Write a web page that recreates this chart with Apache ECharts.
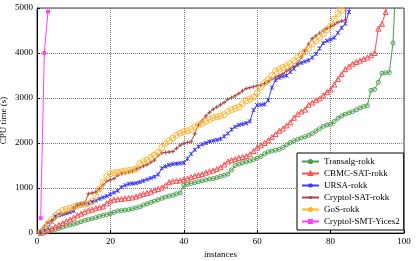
<!DOCTYPE html>
<html><head><meta charset="utf-8">
<script src="https://cdn.jsdelivr.net/npm/echarts@6/dist/echarts.min.js"></script>
<style>html,body{margin:0;padding:0;background:#fff}#c{width:416px;height:261px}</style>
</head><body><div id="c"></div>
<script>
const seriesNames = ["Transalg-rokk","CBMC-SAT-rokk","URSA-rokk","Cryptol-SAT-rokk","GoS-rokk","Cryptol-SMT-Yices2"];
const xTicks = [0,20,40,60,80,100];
const yTicks = [0,1000,2000,3000,4000,5000];
const transalg = [0,20,40,60,80,100,130,160,180,200,220,250,280,300,320,340,370,390,410,430,460,490,500,510,520,540,560,580,620,650,680,710,740,770,800,820,840,870,890,1060,1080,1100,1120,1140,1160,1180,1200,1210,1230,1260,1280,1310,1400,1500,1530,1560,1580,1600,1630,1660,1700,1760,1800,1820,1840,1860,1900,1960,2010,2050,2080,2110,2140,2170,2210,2270,2320,2370,2400,2420,2480,2550,2600,2640,2670,2700,2740,2780,2810,2830,3170,3190,3350,3550,3560,3570,4220,6000];
const cbmc = [0,30,60,100,140,180,220,260,300,340,390,430,470,500,520,550,570,590,660,720,740,750,760,770,780,790,810,840,870,890,920,950,980,1010,1060,1130,1150,1160,1170,1190,1210,1240,1270,1290,1310,1340,1370,1390,1420,1460,1520,1590,1620,1640,1670,1690,1710,1750,1820,1900,1950,2000,2060,2130,2200,2270,2320,2390,2460,2560,2640,2700,2740,2850,2900,2950,2990,3060,3130,3190,3300,3420,3530,3640,3700,3760,3800,3830,3870,3900,3950,4000,4540,4650,4910,6000];
const ursa = [0,50,120,250,370,400,420,440,460,490,620,640,650,660,690,720,760,790,820,860,900,940,1020,1060,1090,1100,1110,1130,1160,1190,1220,1250,1300,1440,1480,1510,1530,1540,1550,1560,1650,1760,1850,1920,1970,2000,2030,2050,2070,2090,2150,2210,2300,2360,2400,2420,2440,2480,2730,2840,2850,2860,2950,3230,3400,3450,3480,3500,3580,3650,3740,3780,3810,3840,3900,3980,4100,4220,4270,4300,4340,4450,4560,4650,4910,6000];
const cryptolSat = [50,150,240,280,330,390,410,440,480,560,610,640,660,870,890,910,980,1060,1150,1180,1210,1280,1320,1330,1350,1380,1420,1450,1490,1520,1570,1620,1720,1780,1790,1800,1810,1880,1950,1990,2010,2030,2200,2400,2500,2600,2680,2750,2800,2850,2900,2970,3010,3050,3100,3160,3210,3230,3250,3270,3290,3320,3360,3420,3460,3500,3540,3600,3650,3700,3760,3900,4050,4200,4320,4380,4440,4500,4550,4590,4630,4680,4710,4730,6000];
const gos = [20,80,200,300,390,450,500,530,550,580,610,630,640,650,700,820,980,1120,1260,1320,1340,1350,1360,1380,1390,1400,1420,1540,1590,1620,1680,1730,1790,1900,1980,2050,2110,2170,2220,2250,2270,2300,2360,2400,2440,2480,2520,2560,2580,2600,2630,2700,2740,2770,2800,2870,2940,2980,3020,3120,3250,3340,3400,3500,3600,3640,3680,3720,3760,3830,3900,3970,4030,4100,4200,4270,4350,4430,4520,4600,4750,4880,4950,6000];
const cryptolSmt = [330,4000,4920];

const toPts = a => a.map((v,i)=>[i+1,v]);
const serif = '"Liberation Serif","DejaVu Serif",serif';
const plusPath = 'path://M5,0L5,10M0,5L10,5';
const xPath = 'path://M0,0L10,10M10,0L0,10M5,0L5,10';
function mk(name, data, color, symbol, size, hollow){
  return {
    name, type:'line', data: toPts(data), clip:true,
    symbol, symbolSize:size, showSymbol:true,
    lineStyle:{color, width:1},
    itemStyle:{color: hollow ? 'rgba(0,0,0,0)' : color, borderColor:color, borderWidth:1},
    emphasis:{disabled:true}, animation:false
  };
}
const chart = echarts.init(document.getElementById('c'), null, {renderer:'canvas'});
chart.setOption({
  animation:false,
  backgroundColor:'#fff',
  grid:{left:37,right:12,top:8,bottom:28,containLabel:false,outerBoundsMode:'none',show:true,borderColor:'#444',borderWidth:1,backgroundColor:'rgba(0,0,0,0)'},
  xAxis:{type:'value',min:0,max:100,interval:20,name:'instances',nameLocation:'middle',nameGap:17,nameMoveOverlap:false,
    nameTextStyle:{fontFamily:serif,fontSize:9,color:'#000'},
    axisLine:{lineStyle:{color:'#000'}},axisTick:{inside:true,length:3,lineStyle:{color:'#000'}},
    axisLabel:{fontFamily:serif,fontSize:9,color:'#000',margin:4,formatter:v=>String(v)},
    splitLine:{show:true,lineStyle:{color:'#777',type:[1,1],width:1}}},
  yAxis:{type:'value',min:0,max:5000,interval:1000,name:'CPU time (s)',nameLocation:'middle',nameGap:29,nameMoveOverlap:false,
    nameTextStyle:{fontFamily:serif,fontSize:9,color:'#000'},
    axisLine:{show:true,lineStyle:{color:'#000'}},axisTick:{show:true,inside:true,length:3,lineStyle:{color:'#000'}},
    axisLabel:{fontFamily:serif,fontSize:9,color:'#000',margin:4,formatter:v=>String(v)},
    splitLine:{show:true,lineStyle:{color:'#777',type:[1,1],width:1}}},
  legend:{orient:'vertical',left:297,top:153,width:100,backgroundColor:'#fff',borderColor:'#000',borderWidth:1,
    padding:[3,4,3,4],itemGap:1,itemWidth:17,itemHeight:4,
    textStyle:{fontFamily:serif,fontSize:9,color:'#000',lineHeight:11},
    data:seriesNames},
  series:[
    mk(seriesNames[0], transalg, '#4a9e4a', 'circle', 4, true),
    mk(seriesNames[1], cbmc, '#ff4d4d', 'triangle', 5, true),
    mk(seriesNames[2], ursa, '#3b3bff', xPath, 4, true),
    mk(seriesNames[3], cryptolSat, '#a84848', plusPath, 4, true),
    mk(seriesNames[4], gos, '#ffb533', 'circle', 6, true),
    mk(seriesNames[5], cryptolSmt, '#ff40ff', 'rect', 3, false)
  ]
});
</script></body></html>
